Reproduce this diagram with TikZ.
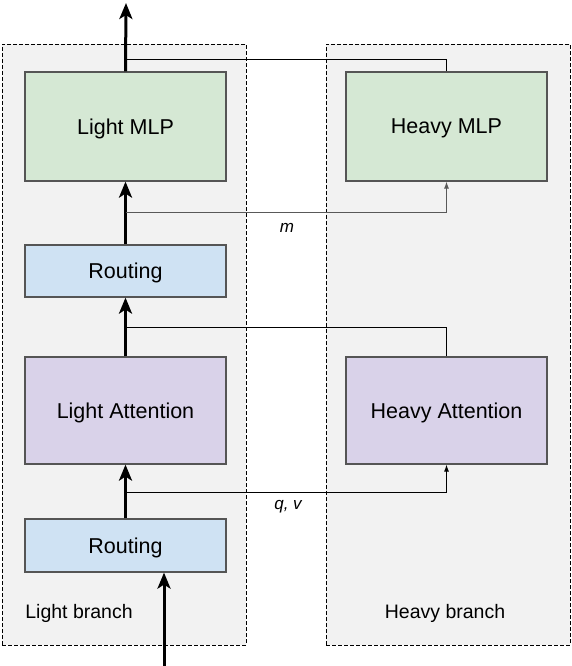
\documentclass[tikz,border=0pt]{standalone}
\usepackage{fontspec}
\setmainfont{Liberation Sans}
\usetikzlibrary{arrows.meta}

\definecolor{mlpgreen}{HTML}{D5E8D4}
\definecolor{routeblue}{HTML}{CFE2F3}
\definecolor{attnpurple}{HTML}{D9D2E9}
\definecolor{branchgray}{HTML}{F2F2F2}
\definecolor{edgegray}{HTML}{555555}

\begin{document}
\begin{tikzpicture}[x=1pt, y=-1pt,
	every node/.style={font=\fontsize{21.5}{24}\selectfont},
	branchbox/.style={draw, dashed, dash pattern=on 4pt off 2pt, line width=0.8pt, fill=branchgray, minimum width=244pt, minimum height=601pt, inner sep=0pt},
	block/.style={draw=edgegray, line width=1.2pt, minimum width=201pt, inner sep=0pt, text depth=0pt},
	mainflow/.style={line width=3pt, -{Stealth[length=16pt, width=13pt, inset=4pt]}},
	sideflow/.style={line width=1pt},
	sidearrow/.style={sideflow, -{Latex[length=7pt, width=5pt]}},
	branchlabel/.style={font=\fontsize{19.5}{22}\selectfont},
	varlabel/.style={font=\fontsize{17}{20}\selectfont\itshape}]
	\useasboundingbox (0,0) rectangle (572,666);
	% branch frames
	\node[branchbox] (lightbr) at (124,344.5) {};
	\node[branchbox] (heavybr) at (448,344.5) {};
	\node[branchlabel] (lightlbl) at (79,613) {Light branch};
	\node[branchlabel] (heavylbl) at (445,613) {Heavy branch};
	% blocks
	\node[block, fill=mlpgreen, minimum height=109pt] (lmlp) at (125.5,126.5) {Light MLP};
	\node[block, fill=mlpgreen, minimum height=109pt] (hmlp) at (446.5,126.5) {Heavy MLP};
	\node[block, fill=routeblue, minimum height=52pt] (route2) at (125.5,271) {Routing};
	\node[block, fill=attnpurple, minimum height=107pt] (latt) at (125.5,410.5) {Light Attention};
	\node[block, fill=attnpurple, minimum height=107pt] (hatt) at (446.5,410.5) {Heavy Attention};
	\node[block, fill=routeblue, minimum height=53pt] (route1) at (125.5,545.5) {Routing};
	% taps and ends
	\coordinate (outp) at (126,3);
	\coordinate (inp) at (164,666);
	\coordinate (mjoin) at (126,60);
	\coordinate (mtap) at (126,212);
	\coordinate (atap) at (126,327);
	\coordinate (qtap) at (126,492);
	% main path
	\draw[mainflow] (inp) -- (inp |- route1.south);
	\draw[mainflow] (route1.north) -- (latt.south);
	\draw[mainflow] (latt.north) -- (route2.south);
	\draw[mainflow] (route2.north) -- (lmlp.south);
	\draw[mainflow] (lmlp.north) -- (outp);
	% heavy side
	\draw[sidearrow] (qtap) -| (hatt.south);
	\draw[sideflow] (atap) -| (hatt.north);
	\draw[sidearrow, draw=black!65] (mtap) -| (hmlp.south);
	\draw[sideflow] (hmlp.north) |- (mjoin);
	\node[varlabel] (qvlbl) at (288,507) {q, v};
	\node[varlabel] (mlbl) at (287,228) {m};
\end{tikzpicture}
\end{document}
